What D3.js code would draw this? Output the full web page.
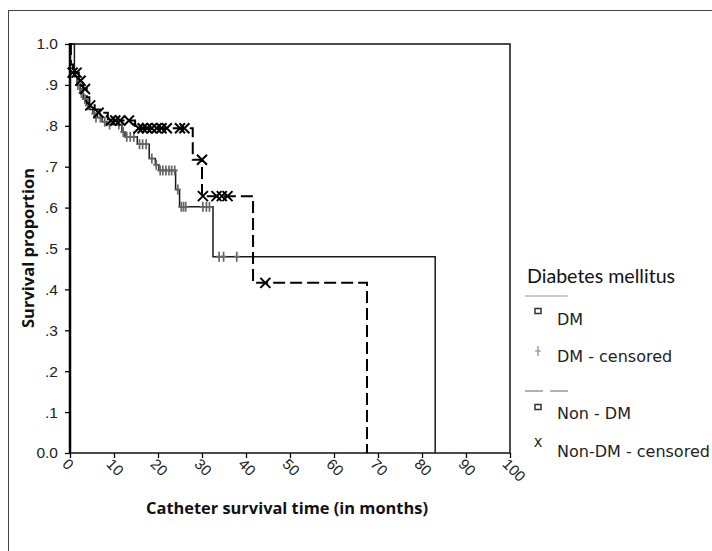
<!DOCTYPE html>
<html>
<head>
<meta charset="utf-8">
<script src="https://cdn.jsdelivr.net/npm/d3@7"></script>
<style>
  body { margin: 0; background: #fff; }
  svg { display: block; }
</style>
</head>
<body>
<svg id="chart"></svg>
<script>
// axis ticks
const xTicks = [0, 10, 20, 30, 40, 50, 60, 70, 80, 90, 100];
const yTicks = [0, 0.1, 0.2, 0.3, 0.4, 0.5, 0.6, 0.7, 0.8, 0.9, 1.0];
const yTickLabels = ['0.0', '.1', '.2', '.3', '.4', '.5', '.6', '.7', '.8', '.9', '1.0'];

// Kaplan-Meier steps: [time in months, survival after the drop]
const dmSteps = [
  [0, 1.0], [1.0, 0.92], [1.6, 0.90], [2.3, 0.88], [3.0, 0.865], [3.8, 0.85],
  [4.5, 0.84], [5.2, 0.83], [6.2, 0.82], [7.3, 0.81], [8.3, 0.803], [11.8, 0.785],
  [12.5, 0.773], [15.3, 0.755], [18.0, 0.72], [19.4, 0.705], [20.2, 0.691],
  [24.0, 0.644], [24.9, 0.602], [32.5, 0.48], [83.0, 0]
];
const dmCensored = [
  [1.8, 0.90], [2.6, 0.88], [3.4, 0.865], [4.1, 0.85], [5.5, 0.83], [5.9, 0.82],
  [6.9, 0.82], [7.9, 0.81], [9.0, 0.803], [11.1, 0.803], [12.1, 0.785], [12.9, 0.773],
  [13.7, 0.773], [14.5, 0.773], [15.8, 0.755], [16.5, 0.755], [17.3, 0.755],
  [18.6, 0.72], [19.6, 0.705], [20.5, 0.691], [21.1, 0.691], [21.8, 0.691],
  [22.5, 0.691], [23.1, 0.691], [23.8, 0.691], [24.5, 0.644], [25.3, 0.602],
  [25.8, 0.602], [26.3, 0.602], [30.2, 0.602], [31.0, 0.602], [31.7, 0.602],
  [33.9, 0.48], [34.9, 0.48], [37.9, 0.48]
];
const nonDmSteps = [
  [0, 1.0], [0.2, 0.95], [0.7, 0.93], [2.0, 0.91], [3.0, 0.89], [3.8, 0.87],
  [4.4, 0.85], [5.6, 0.84], [6.8, 0.832], [8.6, 0.813], [14.8, 0.794],
  [27.9, 0.717], [30.0, 0.628], [41.6, 0.416], [67.5, 0]
];
const nonDmCensored = [
  [0.6, 0.93], [1.5, 0.93], [2.4, 0.91], [3.4, 0.89], [4.6, 0.85], [6.5, 0.832],
  [9.3, 0.813], [10.3, 0.813], [11.4, 0.813], [13.4, 0.813], [15.6, 0.794],
  [16.5, 0.794], [17.5, 0.794], [18.6, 0.794], [19.7, 0.794], [20.8, 0.794],
  [22.0, 0.794], [25.0, 0.794], [26.0, 0.794], [30.0, 0.717], [30.2, 0.628],
  [33.3, 0.628], [34.5, 0.628], [35.8, 0.628], [44.4, 0.416]
];

const legendTitle = 'Diabetes mellitus';
const legendLabels = ['DM', 'DM - censored', 'Non - DM', 'Non-DM - censored'];

class SurvivalPlot {
  constructor(_config) {
    this.config = {
      parentElement: _config.parentElement,
      containerWidth: _config.containerWidth || 712,
      containerHeight: _config.containerHeight || 551
    };
    this.config.margin = _config.margin || { top: 44, right: 202, bottom: 98, left: 70 };
    this.config.width = this.config.containerWidth - this.config.margin.left - this.config.margin.right;
    this.config.height = this.config.containerHeight - this.config.margin.top - this.config.margin.bottom;
    this.svg = d3.select(this.config.parentElement)
        .attr('width', this.config.containerWidth)
        .attr('height', this.config.containerHeight);
  }

  initVis() {
    let vis = this;

    // outer frame of the figure
    vis.svg.append('rect')
        .attr('x', 8.5).attr('y', 10.5)
        .attr('width', 720).attr('height', 560)
        .attr('fill', 'none')
        .attr('stroke', '#444')
        .attr('stroke-width', 1);

    vis.chart = vis.svg.append('g')
        .attr('transform', `translate(${vis.config.margin.left}, ${vis.config.margin.top})`);

    vis.xScale = d3.scaleLinear().domain([0, 100]).range([0, vis.config.width]);
    vis.yScale = d3.scaleLinear().domain([0, 1]).range([vis.config.height, 0]);

    vis.render();
  }

  render() {
    let vis = this;
    const w = vis.config.width, h = vis.config.height;

    // axes
    const yAxis = d3.axisLeft(vis.yScale)
        .tickValues(yTicks)
        .tickFormat((d, i) => yTickLabels[i])
        .tickSize(5)
        .tickPadding(7);
    const yg = vis.chart.append('g').call(yAxis);
    yg.select('.domain').remove();
    yg.selectAll('line').attr('stroke', '#000').attr('stroke-width', 1.3);
    yg.selectAll('text')
        .attr('font-family', '"Liberation Sans", Arial, sans-serif')
        .attr('font-size', 15.5)
        .attr('fill', '#222');

    const xAxis = d3.axisBottom(vis.xScale)
        .tickValues(xTicks)
        .tickSize(5);
    const xg = vis.chart.append('g')
        .attr('transform', `translate(0, ${h})`)
        .call(xAxis);
    xg.select('.domain').remove();
    xg.selectAll('line').attr('stroke', '#000').attr('stroke-width', 1.3);
    xg.selectAll('text')
        .attr('x', 0).attr('y', 0).attr('dy', null)
        .attr('text-anchor', 'start')
        .attr('transform', 'translate(-9, 12) rotate(45)')
        .attr('font-family', '"Liberation Sans", Arial, sans-serif')
        .attr('font-size', 15)
        .attr('fill', '#222');

    // plot frame
    vis.chart.append('rect')
        .attr('width', w).attr('height', h)
        .attr('fill', 'none')
        .attr('stroke', '#111')
        .attr('stroke-width', 1.5);
    vis.chart.append('line')
        .attr('x1', 0).attr('x2', 0).attr('y1', -1).attr('y2', h)
        .attr('stroke', '#000').attr('stroke-width', 2.5);

    const stepLine = d3.line()
        .x(d => vis.xScale(d[0]))
        .y(d => vis.yScale(d[1]))
        .curve(d3.curveStepAfter);

    // DM curve (solid)
    vis.chart.append('path')
        .datum(dmSteps)
        .attr('d', stepLine)
        .attr('fill', 'none')
        .attr('stroke', '#1a1a1a')
        .attr('stroke-width', 1.5);

    // Non-DM curve (dashed)
    vis.chart.append('path')
        .datum(nonDmSteps)
        .attr('d', stepLine)
        .attr('fill', 'none')
        .attr('stroke', '#000')
        .attr('stroke-width', 2)
        .attr('stroke-dasharray', '12,5');

    // censored DM: plus marks
    vis.chart.append('g')
        .selectAll('path')
        .data(dmCensored)
        .join('path')
        .attr('transform', d => `translate(${vis.xScale(d[0])}, ${vis.yScale(d[1])})`)
        .attr('d', 'M0,-5V5M-3,0H3')
        .attr('fill', 'none')
        .attr('stroke', '#666')
        .attr('stroke-width', 1.7);

    // censored Non-DM: x marks
    vis.chart.append('g')
        .selectAll('path')
        .data(nonDmCensored)
        .join('path')
        .attr('transform', d => `translate(${vis.xScale(d[0])}, ${vis.yScale(d[1])})`)
        .attr('d', 'M-5,-5L5,5M-5,5L5,-5')
        .attr('fill', 'none')
        .attr('stroke', '#000')
        .attr('stroke-width', 2);

    // axis titles
    vis.svg.append('text')
        .attr('transform', 'translate(34, 248) rotate(-90)')
        .attr('text-anchor', 'middle')
        .attr('font-family', '"Open Sans", sans-serif')
        .attr('font-weight', 'bold')
        .attr('font-size', 16.5)
        .attr('fill', '#111')
        .text('Survival proportion');

    vis.svg.append('text')
        .attr('x', 287).attr('y', 514)
        .attr('text-anchor', 'middle')
        .attr('font-family', '"Open Sans", sans-serif')
        .attr('font-weight', 'bold')
        .attr('font-size', 16.4)
        .attr('fill', '#111')
        .text('Catheter survival time (in months)');

    vis.renderLegend();
  }

  renderLegend() {
    let vis = this;
    const lg = vis.svg.append('g');
    const font = '"DejaVu Sans", sans-serif';

    lg.append('text')
        .attr('x', 527).attr('y', 283)
        .attr('font-family', 'Lato, sans-serif')
        .attr('font-size', 19.6)
        .attr('fill', '#111')
        .text(legendTitle);

    // solid sample
    lg.append('line')
        .attr('x1', 525).attr('x2', 568).attr('y1', 296).attr('y2', 296)
        .attr('stroke', '#999').attr('stroke-width', 1.2);
    // dashed sample
    lg.append('line')
        .attr('x1', 525).attr('x2', 568).attr('y1', 391).attr('y2', 391)
        .attr('stroke', '#666').attr('stroke-width', 1.2)
        .attr('stroke-dasharray', '18,7');

    const rows = [
      { y: 325, symbol: 'square', my: 311 },
      { y: 362, symbol: 'plus', my: 351 },
      { y: 419, symbol: 'square', my: 407 },
      { y: 457, symbol: 'x', my: 447 }
    ];

    rows.forEach((r, i) => {
      if (r.symbol === 'square') {
        lg.append('rect')
            .attr('x', 535).attr('y', r.my - 2.5)
            .attr('width', 6).attr('height', 5)
            .attr('fill', '#fff')
            .attr('stroke', '#333').attr('stroke-width', 1.5);
      } else if (r.symbol === 'plus') {
        lg.append('path')
            .attr('d', `M538,${r.my - 5}V${r.my + 5}M535,${r.my}H541`)
            .attr('stroke', '#888').attr('stroke-width', 1.2);
      } else {
        lg.append('text')
            .attr('x', 538).attr('y', r.my)
            .attr('text-anchor', 'middle')
            .attr('font-family', font)
            .attr('font-size', 12.5)
            .attr('fill', '#111')
            .text('X');
      }
      lg.append('text')
          .attr('x', 557).attr('y', r.y)
          .attr('font-family', font)
          .attr('font-size', 16)
          .attr('fill', '#222')
          .text(legendLabels[i]);
    });
  }
}

const plot = new SurvivalPlot({ parentElement: '#chart' });
plot.initVis();
</script>
</body>
</html>
